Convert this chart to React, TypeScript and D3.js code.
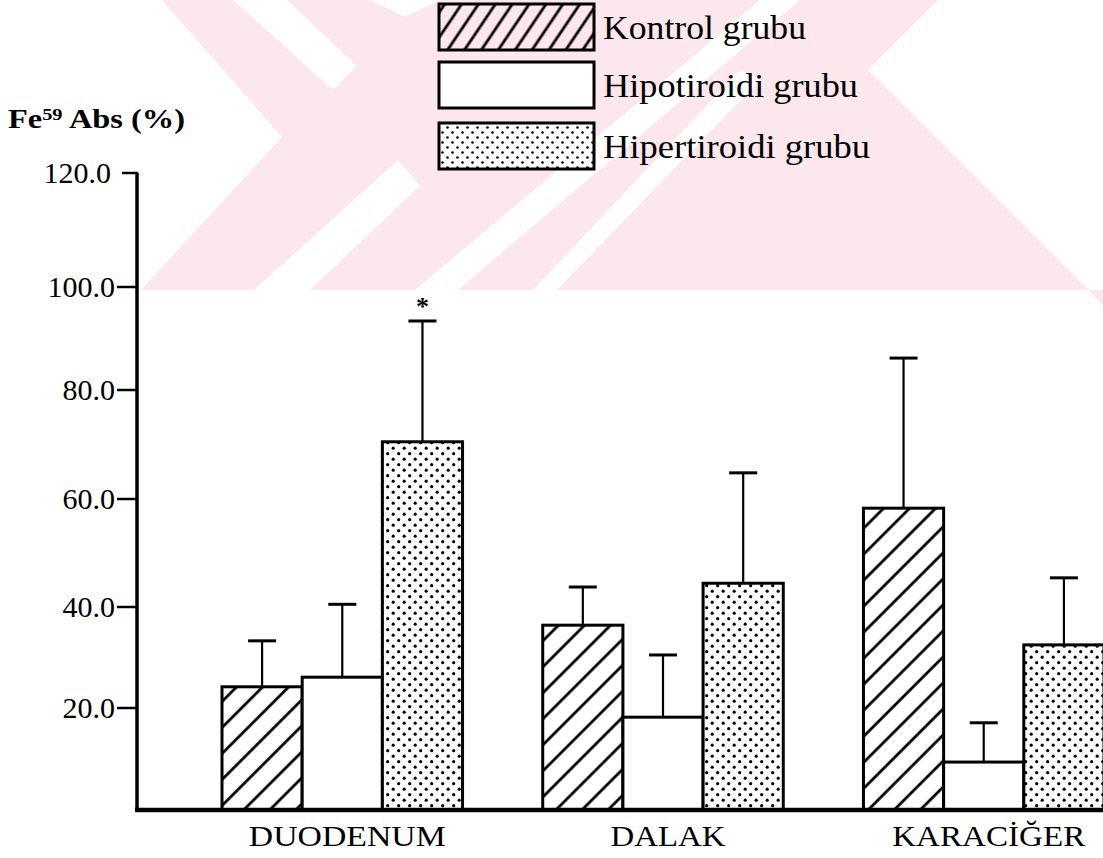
import React from "react";
import * as d3 from "d3";

const categories = ["DUODENUM", "DALAK", "KARACİĞER"];
const seriesNames = ["Kontrol grubu", "Hipotiroidi grubu", "Hipertiroidi grubu"];
const kontrolMean = [24.2, 36.4, 58.3];
const kontrolUpper = [33.3, 43.7, 86.2];
const hipoMean = [26.1, 18.2, 9.4];
const hipoUpper = [40.5, 30.5, 17.1];
const hiperMean = [70.5, 44.4, 32.5];
const hiperUpper = [93.4, 64.8, 45.4];
const significant = [[false, false, true], [false, false, false], [false, false, false]];
const yTicks = [20, 40, 60, 80, 100, 120];
const yTickLabels = ["20.0", "40.0", "60.0", "80.0", "100.0", "120.0"];

const W = 1103;
const H = 858;

// hand-drawn axis: piecewise linear scale
const y = d3
  .scaleLinear()
  .domain([0, 20, 40, 60, 80, 100, 120])
  .range([810, 708, 607, 499, 390, 287, 173]);

const x0 = d3.scaleBand().domain(categories).range([222, 1104]).paddingInner(0.25).paddingOuter(0);
const x1 = d3.scaleBand().domain(seriesNames).range([0, x0.bandwidth()]).padding(0);

const means = [kontrolMean, hipoMean, hiperMean];
const uppers = [kontrolUpper, hipoUpper, hiperUpper];
const fills = ["url(#hatch)", "#ffffff", "url(#dots)"];
const legendFills = ["url(#hatchL)", "#ffffff", "url(#dotsL)"];
const catLabelWidths = [197, 115, 193];

const watermark = [
  "162,0 938,0 868,70 1103,305 1103,290 141,290 282,137",
];
const watermarkGaps = [
  "233,0 287,0 357,66 333,90",
  "254,290 310,290 420,186 398,160",
  "370,0 440,0 405,17",
  "415,290 458,290 800,0 760,0",
  "533,290 557,290 760,80 740,70",
];

const serif = "'Liberation Serif', 'Times New Roman', serif";

export default function App() {
  const bars: any[] = [];
  categories.forEach((c, ci) => {
    seriesNames.forEach((s, si) => {
      bars.push({ c, ci, s, si, v: means[si][ci], u: uppers[si][ci], sig: significant[ci][si] });
    });
  });
  const legendY = [4, 62, 123];
  const legendTextRight = [806, 858, 870];
  return (
    <svg width={W} height={H} style={{ position: "absolute", left: 0, top: 0, background: "#fff" }}>
      <defs>
        <pattern id="hatch" patternUnits="userSpaceOnUse" width="18.4" height="18.4" patternTransform="rotate(45)">
          <rect width="18.4" height="18.4" fill="#fff" />
          <line x1="9" y1="0" x2="9" y2="18.4" stroke="#000" strokeWidth="2.8" />
        </pattern>
        <pattern id="hatchL" patternUnits="userSpaceOnUse" width="14" height="14" patternTransform="rotate(34)">
          <line x1="7" y1="0" x2="7" y2="14" stroke="#000" strokeWidth="2.8" />
        </pattern>
        <pattern id="dots" patternUnits="userSpaceOnUse" width="11" height="11">
          <rect width="11" height="11" fill="#fff" />
          <circle cx="2.7" cy="2.7" r="1.6" fill="#000" />
          <circle cx="8.2" cy="8.2" r="1.6" fill="#000" />
        </pattern>
        <pattern id="dotsL" patternUnits="userSpaceOnUse" width="10" height="10">
          <rect width="10" height="10" fill="#fff" />
          <circle cx="2.5" cy="2.5" r="1.3" fill="#000" />
          <circle cx="7.5" cy="7.5" r="1.3" fill="#000" />
        </pattern>
      </defs>
      <rect width={W} height={H} fill="#fff" />
      {watermark.map((p, i) => (
        <polygon key={"wm" + i} points={p} fill="#fce8ec" />
      ))}
      {watermarkGaps.map((p, i) => (
        <polygon key={"wg" + i} points={p} fill="#fff" />
      ))}

      {/* legend */}
      {seriesNames.map((s, i) => (
        <g key={s}>
          <rect x={439} y={legendY[i]} width={155} height={46} fill={legendFills[i]} stroke="#000" strokeWidth={3} />
          <text
            x={603}
            y={legendY[i] + 35}
            fontFamily={serif}
            fontSize={33}
            textLength={legendTextRight[i] - 603}
            lengthAdjust="spacingAndGlyphs"
          >
            {s}
          </text>
        </g>
      ))}

      {/* y title */}
      <text x={8} y={128} fontFamily={serif} fontSize={27} fontWeight="bold" textLength={177} lengthAdjust="spacingAndGlyphs">
        Fe<tspan fontSize={17} dy={-8}>59</tspan>
        <tspan dy={8}> Abs (%)</tspan>
      </text>

      {/* bars */}
      {bars.map((b) => {
        const bx = (x0(b.c) as number) + (x1(b.s) as number);
        const bw = x1.bandwidth();
        const cx = bx + bw / 2;
        return (
          <g key={b.c + b.s}>
            <line x1={cx} x2={cx} y1={y(b.v)} y2={y(b.u)} stroke="#000" strokeWidth={2.2} />
            <line x1={cx - 14} x2={cx + 14} y1={y(b.u)} y2={y(b.u)} stroke="#000" strokeWidth={3} />
            <rect x={bx} y={y(b.v)} width={bw} height={y(0) - y(b.v)} fill={fills[b.si]} stroke="#000" strokeWidth={3} />
            {b.sig && (
              <text x={cx} y={y(b.u) - 6} textAnchor="middle" fontFamily={serif} fontSize={26} fontWeight="bold">
                *
              </text>
            )}
          </g>
        );
      })}

      {/* y axis */}
      <line x1={137} x2={137} y1={y(120)} y2={y(0)} stroke="#000" strokeWidth={3.5} />
      <line x1={122} x2={138} y1={y(120)} y2={y(120)} stroke="#000" strokeWidth={2.5} />
      {yTicks.map((t, i) => (
        <g key={t}>
          {t !== 120 && <line x1={117} x2={137} y1={y(t)} y2={y(t)} stroke="#000" strokeWidth={2.5} />}
          <text x={t === 120 ? 111 : 115} y={y(t) + 10} textAnchor="end" fontFamily={serif} fontSize={30}>
            {yTickLabels[i]}
          </text>
        </g>
      ))}
      {/* x axis */}
      <line x1={135} x2={W} y1={y(0)} y2={y(0)} stroke="#000" strokeWidth={4.5} />
      {categories.map((c, i) => (
        <text
          key={c}
          x={(x0(c) as number) + x0.bandwidth() / 2 + 5 - catLabelWidths[i] / 2}
          y={846}
          fontFamily={serif}
          fontSize={29}
          textLength={catLabelWidths[i]}
          lengthAdjust="spacingAndGlyphs"
        >
          {c}
        </text>
      ))}
    </svg>
  );
}
